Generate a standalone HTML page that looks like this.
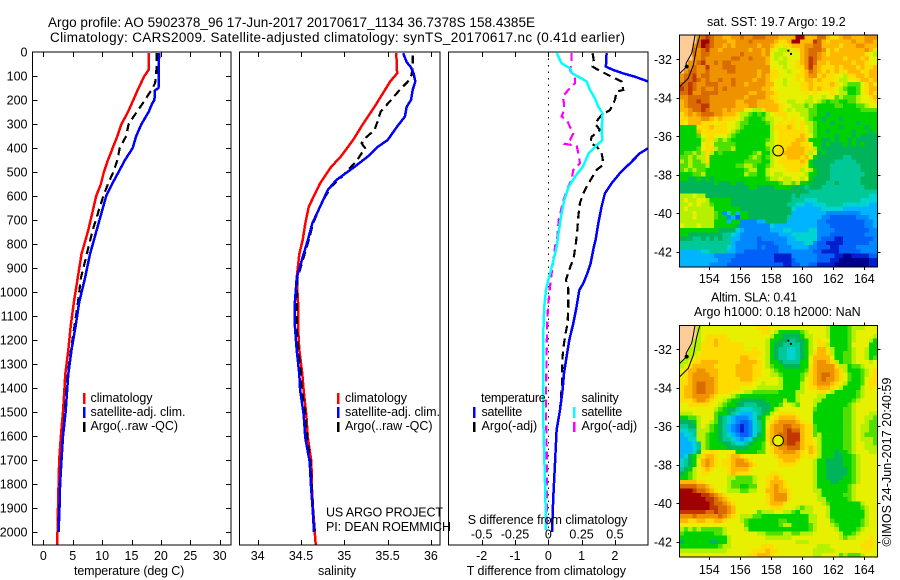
<!DOCTYPE html>
<html lang="en">
<head>
<meta charset="utf-8">
<title>Argo profile 5902378_96</title>
<style>
html,body{margin:0;padding:0;background:#fff;}
svg{display:block;font-family:"Liberation Sans",sans-serif;font-size:12.5px;fill:#000;}
text{fill:#000;}
.frame{fill:none;stroke:#000;stroke-width:1;shape-rendering:crispEdges;}
.bar{shape-rendering:crispEdges;}
</style>
</head>
<body>
<svg id="chart" xmlns="http://www.w3.org/2000/svg" width="900" height="580" viewBox="0 0 900 580">
  <defs>
    <clipPath id="clip1"><rect x="32.5" y="52" width="198.5" height="493"/></clipPath>
    <clipPath id="clip2"><rect x="239.5" y="52" width="200.5" height="493"/></clipPath>
    <clipPath id="clip3"><rect x="448.5" y="52" width="199.5" height="493"/></clipPath>
    <clipPath id="clipM1"><rect x="679.5" y="35" width="198" height="232"/></clipPath>
    <clipPath id="clipM2"><rect x="679.5" y="325.5" width="198" height="231.5"/></clipPath>
  </defs>

  <text x="48" y="27" textLength="487" font-size="13.5">Argo profile: AO 5902378_96 17-Jun-2017 20170617_1134 36.7378S 158.4385E</text>
  <text x="50" y="42" textLength="575" font-size="13.5">Climatology: CARS2009. Satellite-adjusted climatology: synTS_20170617.nc (0.41d earlier)</text>

  <g id="sst-cells"></g>
  <g id="sla-cells"></g>
  <g id="overlays"></g>
  <g id="series1" clip-path="url(#clip1)"></g>
  <g id="series2" clip-path="url(#clip2)"></g>
  <g id="series3" clip-path="url(#clip3)"></g>
  <g id="axes"></g>

  <rect class="frame" x="32.5" y="52" width="198.5" height="493"/>
  <rect class="frame" x="239.5" y="52" width="200.5" height="493"/>
  <rect class="frame" x="448.5" y="52" width="199.5" height="493"/>
  <rect class="frame" x="679.5" y="35" width="198" height="232"/>
  <rect class="frame" x="679.5" y="325.5" width="198" height="231.5"/>

  <g>
    <rect class="bar" x="83" y="393" width="2.5" height="11" fill="#ff0000"/>
    <rect class="bar" x="83" y="407" width="2.5" height="11" fill="#0000ff"/>
    <rect class="bar" x="83" y="422" width="2.5" height="10" fill="#000"/>
    <text x="90.5" y="402" textLength="62">climatology</text>
    <text x="90.5" y="416" textLength="95">satellite-adj. clim.</text>
    <text x="90.5" y="430" textLength="87.5">Argo(..raw -QC)</text>
  </g>
  <g>
    <rect class="bar" x="337" y="393" width="2.5" height="11" fill="#ff0000"/>
    <rect class="bar" x="337" y="407" width="2.5" height="11" fill="#0000ff"/>
    <rect class="bar" x="337" y="422" width="2.5" height="10" fill="#000"/>
    <text x="345" y="402" textLength="62">climatology</text>
    <text x="345" y="416" textLength="95">satellite-adj. clim.</text>
    <text x="345" y="430" textLength="87.5">Argo(..raw -QC)</text>
  </g>
  <g>
    <text x="481" y="402" textLength="64.7">temperature</text>
    <text x="581.5" y="402" textLength="37.3">salinity</text>
    <rect class="bar" x="473" y="407" width="2.5" height="11" fill="#0000ff"/>
    <rect class="bar" x="473" y="422" width="2.5" height="10" fill="#000"/>
    <rect class="bar" x="573" y="407" width="2.5" height="11" fill="#00ffff"/>
    <rect class="bar" x="573" y="422" width="2.5" height="10" fill="#ff00ff"/>
    <text x="481.5" y="416" textLength="40.7">satellite</text>
    <text x="481.5" y="430" textLength="55.7">Argo(-adj)</text>
    <text x="581.5" y="416" textLength="40.7">satellite</text>
    <text x="581.5" y="430" textLength="55.7">Argo(-adj)</text>
  </g>

  <text x="326" y="516.5" textLength="117">US ARGO PROJECT</text>
  <text x="326" y="531" textLength="125">PI: DEAN ROEMMICH</text>
  <text x="74" y="575" textLength="110.3">temperature (deg C)</text>
  <text x="318" y="575" textLength="38">salinity</text>
  <text x="466.7" y="575" textLength="159.3">T difference from climatology</text>
  <text x="467.7" y="524" textLength="159.7">S difference from climatology</text>
  <text x="707" y="26" textLength="138.7">sat. SST: 19.7 Argo: 19.2</text>
  <text x="711" y="301.5" textLength="86">Altim. SLA: 0.41</text>
  <text x="694" y="316" textLength="166.7">Argo h1000: 0.18 h2000: NaN</text>
  <text transform="translate(891 546.5) rotate(-90)" textLength="169">©IMOS 24-Jun-2017 20:40:59</text>
</svg>

<script>
/* ---------- axis ticks ---------- */
const depthTicks = [0,100,200,300,400,500,600,700,800,900,1000,1100,1200,1300,1400,1500,1600,1700,1800,1900,2000];
const tempTicks = [0,5,10,15,20,25,30];
const salTicks = [34,34.5,35,35.5,36];
const tDiffTicks = [-2,-1,0,1,2];
const sDiffTicks = [-0.5,-0.25,0,0.25,0.5];
const lonTicks = [154,156,158,160,162,164];
const latTicks = [-32,-34,-36,-38,-40,-42];

/* ---------- temperature panel ---------- */
const tempClimDepth = [5,75,100,150,200,250,300,350,400,450,500,550,600,742,842,942,1042,1142,1242,1342,1400,1500,1600,1700,1800,1900,2000,2053];
const tempClim = [17.9,17.9,17.2,16.2,15.3,14.4,13.3,12.6,11.8,11,10.3,9.8,9,7.65,6.5,5.85,5.2,4.66,4.25,3.75,3.6,3.35,3,2.7,2.6,2.5,2.42,2.33];
const tempSatDepth = [5,150,160,200,215,250,300,350,400,450,500,550,600,742,842,942,1042,1142,1242,1342,1400,1500,1600,1700,1800,1900,2000];
const tempSat = [19.7,19.6,19,18.9,18.5,17.9,16.7,15.8,15.2,13.9,12.8,11.7,10.7,9.08,7.94,7.1,6.1,5.5,4.8,4.25,4.08,3.8,3.35,3.1,2.85,2.75,2.6];
const tempArgoDepth = [5,100,130,150,200,250,300,350,400,450,500,550,600,742,842,942,1042,1142,1242,1342,1400,1500,1600,1700,1800,1900,2000];
const tempArgo = [19.3,19.2,19,18.6,17.3,15.9,14.5,14.1,13,12.6,11.9,11,10.2,8.4,7.4,6.4,5.9,5.3,4.7,4.15,3.95,3.65,3.3,3.05,2.8,2.7,2.55];

/* ---------- salinity panel ---------- */
const salClimDepth = [5,89,123,158,228,297,367,436,478,547,644,714,783,842,942,1042,1142,1242,1342,1408,1508,1608,1708,1808,1908,2053];
const salClim = [35.6,35.61,35.53,35.47,35.35,35.22,35.1,34.96,34.85,34.72,34.59,34.55,34.52,34.48,34.45,34.465,34.465,34.48,34.515,34.53,34.56,34.58,34.62,34.625,34.64,34.67];
const salSatDepth = [5,42,64,89,123,158,200,228,269,311,367,394,436,478,533,575,644,714,783,842,942,1042,1142,1242,1342,1408,1508,1608,1708,1808,1908,2000];
const salSat = [35.68,35.72,35.77,35.8,35.82,35.79,35.77,35.72,35.7,35.61,35.5,35.39,35.27,35.12,34.91,34.81,34.72,34.63,34.58,34.53,34.45,34.43,34.43,34.45,34.48,34.49,34.53,34.55,34.6,34.615,34.635,34.65];
const salArgoDepth = [14,69,103,125,158,200,248,283,325,353,380,401,422,450,478,520,561,603,644,714,783,942,1042,1142,1242,1342,1408,1508,1608,1708,1808,1908,2000];
const salArgo = [35.79,35.79,35.77,35.73,35.64,35.54,35.42,35.39,35.35,35.26,35.2,35.24,35.2,35.15,35.08,34.97,34.85,34.78,34.72,34.64,34.59,34.46,34.45,34.45,34.47,34.5,34.51,34.55,34.57,34.61,34.625,34.64,34.66];

/* ---------- difference panel ---------- */
const dTSatDepth = [5,61,75,89,103,123,150,200,300,380,401,422,464,505,547,589,644,714,783,811,881,922,964,992,1061,1131,1200,1269,1339,1408,1492,1575,1714,1853,2000];
const dTSat = [1.75,1.73,1.95,2.25,2.6,3,3.4,3.6,3.5,3.3,3,2.75,2.45,2.15,1.9,1.7,1.6,1.5,1.42,1.37,1.27,1.17,1.05,0.93,0.85,0.75,0.63,0.55,0.47,0.43,0.35,0.25,0.2,0.15,0.11];
const dTArgoDepth = [5,40,61,75,96,123,158,165,200,242,263,297,325,353,380,394,422,443,470,491,519,561,589,630,686,742,797,853,908,950,985,1061,1131,1165,1214,1269,1339,1380,1492,1575,1714,1853,2000];
const dTArgo = [1.33,1.37,1.33,1.5,1.8,2.2,2.25,2.05,2,1.85,1.6,1.4,1.55,1.3,1.26,1.46,1.6,1.63,1.65,1.45,1.33,1.15,1.05,0.95,0.9,0.87,0.83,0.77,0.63,0.53,0.6,0.6,0.58,0.53,0.47,0.43,0.41,0.41,0.35,0.25,0.2,0.15,0.11];
const dSSatDepth = [5,47,68,89,110,123,158,193,228,256,325,367,388,422,478,505,561,617,686,742,811,881,950,992,1061,1158,1408,1492,1645,1853,1992];
const dSSat = [0.063,0.1,0.163,0.18,0.25,0.288,0.313,0.35,0.375,0.408,0.4,0.406,0.365,0.303,0.26,0.22,0.153,0.12,0.095,0.08,0.063,0.033,0,-0.017,-0.03,-0.037,-0.04,-0.04,-0.032,-0.022,-0.017];
const dSArgoDepth = [5,47,75,110,130,158,186,214,242,269,283,318,339,367,383,391,422,464,491,533,561,617,700,770,797,908,978,1047,1103,1158,1408,1506,1645,1783,1978];
const dSArgo = [0.175,0.175,0.163,0.2,0.2,0.15,0.108,0.118,0.118,0.1,0.138,0.168,0.188,0.163,0.125,0.213,0.225,0.238,0.188,0.175,0.15,0.113,0.078,0.068,0.055,0.028,0.013,0,-0.007,-0.01,-0.017,-0.017,-0.012,-0.012,-0.012];

/* ---------- map grids: each character is a colour-scale level, L = land; spaces only group columns ---------- */
const sstGrid = [
"LLLLefgfee ddeefeefff eeeddddhhd ddffdccdee dddeee",
"LLLLfhhfee eddeeefeee eedccdhhdd dgfdcddddd eddeed",
"LLLefhgfee dedeeeeede edcbccddde effddddcdd deeddd",
"LLLfefgeed eeeeeedeed ecbaabbcde fffecdcddd dddedc",
"LLLfeffeee eeeefeeeed ebaabbbbde ffedcddddd dddcba",
"LLLeefeeee eeffeefeee dbababbbde gfedddddcd ddcdbb",
"LLeefgeefe ffeeeeeeee dbbaabbcde gfddcddddd cddcbb",
"LLefeegeee fffeeeeeee ebbbabbcce gedcccdcdd dcdccd",
"Leffeefeee effeeeeede eccbbabbcd fedcdcdccd ddccdd",
"effgeffeee eeeeeeeede dccbbbbccd eecdccbbac cddcdd",
"effgfefeef eefeeeedee dcbbabbcbd dcdcccbaab bcddcd",
"ffgfeefffe eefeedeeee ddbbabbbcc dccccdcba9 99bcdc",
"gfgfefeefe feeeeeeeed dcbbbbbbcc dcdcccba98 89bcdd",
"ffgeeffffe eeeeeeddee ddcbbbbbbc bcbbbcbaa8 89bcdc",
"eefffffeee eeeeedeeee dccbbbbbbb abbabb9a99 9abbcd",
"deffgffeee eeeddeeedd ddcbbaabba aba9899889 9abbbc",
"defffggeee eeedddeedd dddcbbaaa9 a988889988 899abb",
"ddeffgfeee dedddbbaac dddcbabaaa 9988888888 889999",
"cdedefffee dddcaa9898 abcccbbbaa 9988788888 888888",
"ccdddeedcd cccba98889 aabbcbcbba 9887888788 888888",
"cbdddcccbc cbba998888 9abcbccbca a988878888 878888",
"8888cccdcc cbba988888 8acccdcbcb a988888788 888788",
"8888dccccc cba9888888 8abccccccb a988788888 788878",
"88889bccbb ba98888888 8abcccccdc b988887888 787777",
"88888acca9 a988888888 9abccccddc 8887787887 877777",
"88888bcb99 9998888888 aabcccddcc b887877787 878777",
"88889bcca9 99a8888888 9abccddddc ca87777777 777777",
"899a9aca89 88888889a8 8abcdddddc ab78777777 777777",
"99a9aac888 8888889a98 9abccdddcd b877777766 777777",
"a9a99ac888 8888899998 8abcccccdc 8777776666 677777",
"99a999a888 88899aa988 9abbcccccb 8777766666 667777",
"9a9a998888 888889aa88 abbbbcccab a877766666 667777",
"88899a8888 88888a9988 abaabbbbba 8877766666 666777",
"8877878788 8888888888 9aabaabbab 8777766666 667777",
"7777777787 7787788888 8889aa9a88 7777667666 667777",
"7777777777 7777778877 7788887776 7776666666 666777",
"7777777777 7777777777 7777777777 6666666666 666666",
"aaabaa7777 7777777777 7777776766 6666666666 666655",
"abaabba888 8877777777 7777776665 5566666666 665555",
"aababaa988 8877777777 7777766554 4555666655 555544",
"abaaaaaa88 8888777777 7777775444 4445555544 444444",
"aaabaaaa98 3584887777 7777774444 4444333333 334444",
"aaabaaaa98 8342887777 7777764444 4443322222 233344",
"aaaaaaaa88 8488333344 7777744444 4433222222 222334",
"baaabaaa88 8887333333 3544444444 4433322222 222334",
"8888888887 7775433333 3444554444 5533332222 222233",
"8877777777 6654333333 3334445555 5533322222 222333",
"7776676767 6644333323 3333344555 5532221122 222223",
"6666666666 6643333322 2233344445 5322111122 222233",
"6666666666 6543333323 2223334444 3322211222 233333",
"4444455666 6443322222 2223333333 3221111222 223333",
"4444444433 3332222222 2211113333 3322221100 111122",
"4444444443 3322222222 2211112333 3322211000 000011",
"4444444333 3222222222 2222112233 2211110000 000011"
];
const slaGrid = [
"LLLLabbbbb bbbbbbbbcc cbbbbbbbbb bbbba88889 aaabbb",
"LLLLabbbbb bbbbbbbbbc cba888889a bbbba88889 abbbbb",
"LLLLabcccc cbbbbbbbbb ba8877778a abbba88889 abbbba",
"LLLaabccdc ccbbbbbbbb a887766778 abcbb88889 abbba8",
"LLLaacccdc cccccbbbbb a877666678 abcca88889 bbbb88",
"LLaaaccccc cccccbbcbb a876655678 abddca8889 abba88",
"LLaabccccc cccccccccb a876655678 acddca8899 abba88",
"Laabcccccc ccccddccbb a876655678 bddddb8899 abba89",
"aabccddddc ccccddddcb a887666688 bdeedca899 abbbab",
"abcdddddcc cccddddccb a988777788 cdeeeecaa8 99abbb",
"bcddeedddc cccddddccb ba98888889 cdeeeedca8 889abc",
"bcdeeeeddc cccddddccb baa988889a cdeffedcb9 889abc",
"ccdeeeeedc ccccdddcbb bbba88889b cdefeedcb9 889bcc",
"ccdeffeedc cccccccbba bbba8888ab cdeeedcba8 889bcc",
"cddeffeedc ccccbbbbaa aaaa8888ab ccdddcba88 88abcb",
"cddeffeedc ccbbbaa999 9998888aab bbccba8888 89abbb",
"cddeeeedcb bba9888888 8888888abb bbaa888888 89abbb",
"cccdeedcbb a988777777 8888a88abb baa8888888 9abbbb",
"bbcccccbba 9887766677 7889bba9bb ba88888889 abbbbb",
"bbbbbbbba9 8776555667 78abbbbbbb b988888899 abbbbb",
"aaabbbbb98 8765444567 8abccccbbb b888888899 abbbaa",
"8899abbb97 6543334578 abcddddcbb b888888899 abbaa9",
"7778abba97 6543223568 bcdeeeedcb b888888899 abba99",
"6677aba987 6432123568 bdeeffeedc c988888899 abaa99",
"5566aaa987 6432123568 cdeefgffdc c988888899 abaa99",
"4556aa9887 6543223578 cdeffgggdc c9a8888899 aba999",
"4455aa9887 6654345788 cdeffgggdc cba8888899 abaaa9",
"44456a9888 7765567889 bdeefggfdc cba8888899 abbaa9",
"44456a9888 8777778889 bcdeefffdc dca8888899 abbaaa",
"44457bbccb bbb8888899 bcddeeedcb dca8887889 abbbaa",
"4578acddcb bcddcbbbbb bbcdddddcb cba8887788 9abbbb",
"5678bdedcb ccdeedcbbb bbbcdddcbb ba88777788 9abbbb",
"5678bdedcb ccdeeedcbb bbbccccbbb ba88777788 9abbbb",
"678abcdcbb bcddddcbbb bbbbbbbbbb ba88777778 9abbbb",
"789abccbbb bcdcccbbbb bccbbbbbbb ba88777778 9abbbb",
"889abbbbbb baa9999abb ccdcbbbbbb ba88777788 9abbbb",
"ddddccbbbb ba99999abb cdddcbbbbb ba88877888 9abbbb",
"ffffeedcbb ba998899bb cdedcbbbbb ba88888889 abbbbb",
"hhhgffedcb baaa99aabb ddeddcbbbb baa8888889 abbbbb",
"hhhhhggfed cbbbbbbbbb cdeeecbbbb bba8888899 abbbbb",
"hhhhhhggfe dcbbbbbbbb cdeeecbbbb bbaa888889 abbbbb",
"hhhhhhhgff edcbbbbbbb cdddcbbbbb bbba988888 88abbb",
"hhhhhhhggf fedbbbbbbb bcccbbba9a abbba88888 889abb",
"ggggggffgf fedbbbbb9a aabbaa98aa abbba88888 888abb",
"eeefeeeeef edcbaaa998 8888888888 aabba88888 888abb",
"ddccddccdd cbbba98888 8889988888 aabbb98888 889abb",
"bbbbbbbbbb bbbbb98888 8889aa8888 9abbba9888 889abb",
"a9a9a99999 abbbba8888 8888888888 9abbbba888 89abbb",
"9888888899 abbbbbbbaa 9999aa99aa abbbbbba88 9abbbb",
"8888888888 8abbbbbbbb aaaaaabbbb bbbbbbba9a abbbcb",
"7888888778 8abbbbbbbb bbbbbbbaaa bbbbbbbbbb bbbccb",
"8888888889 aabbbbbbbc ccbbbbbbbb bbaaabbbbb bbcccb",
"aaaaaaaaaa abbbbbbccc dccbbbbbbb baaaaabbbb bbbcbb",
"bbbbbbbbbb bbbbbbccdd dcbbbbbbbb baabbbb9a9 99abbb"
];
const colourLevels = "0123456789abcdefgh";
const colourScale = ["#00008c","#0020d0","#0060f8","#0088ff","#00b4ff","#00d4d0","#00c896","#00b45a","#00d200","#50e000","#b4f000","#e6f000","#ffdc00","#ffb800","#ee9200","#d86c00","#c03800","#a00000"];
const landColour = "#ffcc99";

/* ---------- map annotations ---------- */
const coastLon = [153.08,152.97,152.86,152.5,152.54,152.06];
const coastLat = [-30.74,-31.26,-31.69,-32.21,-32.38,-32.76];
const isobathLon = [153.4,153.19,152.97,152.64,152.06];
const isobathLat = [-30.74,-31.35,-32.3,-32.99,-33.45];
const isletLon = [159.1,159.27];
const isletLat = [-31.55,-31.72];
const argoLon = 158.4385;
const argoLat = -36.7378;

/* ---------- axis functions ---------- */
const NS = "http://www.w3.org/2000/svg";
function depthY(d){ return 52 + d * 0.24; }
function tempX(t){ return 43.3 + t * 5.88; }
function salX(s){ return 257.7 + (s - 34) * 86.6; }
function tDiffX(v){ return 548.3 + v * 33.3; }
function sDiffX(v){ return 548.3 + v * 133.2; }
function lonX(l){ return 709.3 + (l - 154) * 15.5; }
function latY1(l){ return 59.3 + (-32 - l) * 19.27; }
function latY2(l){ return 349.3 + (-32 - l) * 19.27; }

function make(parent, tag, attrs, txt){
  const el = document.createElementNS(NS, tag);
  for (const k in attrs) el.setAttribute(k, attrs[k]);
  if (txt !== undefined) el.textContent = txt;
  parent.appendChild(el);
  return el;
}
function profilePoints(depths, values, xFn){
  return depths.map(function(d, i){ return xFn(values[i]).toFixed(1) + "," + depthY(d).toFixed(1); }).join(" ");
}
function drawProfile(parent, name, depths, values, xFn, colour, dash){
  const attrs = {points: profilePoints(depths, values, xFn), fill: "none", stroke: colour, "stroke-width": dash ? 2.2 : 2.5, "shape-rendering": "crispEdges"};
  if (dash) attrs["stroke-dasharray"] = dash;
  const el = make(parent, "polyline", attrs);
  
  
}

const s1 = document.getElementById("series1");
const s2 = document.getElementById("series2");
const s3 = document.getElementById("series3");
const DASH = "8 5";
drawProfile(s1, "temperature-climatology-line", tempClimDepth, tempClim, tempX, "#ff0000");
drawProfile(s1, "temperature-argo-line", tempArgoDepth, tempArgo, tempX, "#000", DASH);
drawProfile(s1, "temperature-satellite-line", tempSatDepth, tempSat, tempX, "#0000ff");
drawProfile(s2, "salinity-climatology-line", salClimDepth, salClim, salX, "#ff0000");
drawProfile(s2, "salinity-argo-line", salArgoDepth, salArgo, salX, "#000", DASH);
drawProfile(s2, "salinity-satellite-line", salSatDepth, salSat, salX, "#0000ff");
const zero = make(s3, "line", {x1: tDiffX(0), x2: tDiffX(0), y1: 52, y2: 545, stroke: "#000", "stroke-width": 1, "stroke-dasharray": "1.5 5", "shape-rendering": "crispEdges"});


drawProfile(s3, "t-difference-argo-line", dTArgoDepth, dTArgo, tDiffX, "#000", DASH);
drawProfile(s3, "t-difference-satellite-line", dTSatDepth, dTSat, tDiffX, "#0000ff");
drawProfile(s3, "s-difference-argo-line", dSArgoDepth, dSArgo, sDiffX, "#ff00ff", DASH);
drawProfile(s3, "s-difference-satellite-line", dSSatDepth, dSSat, sDiffX, "#00ffff");

/* ---------- ticks ---------- */
const ax = document.getElementById("axes");
function tick(x1, y1, x2, y2){
  const el = make(ax, "line", {x1: x1, y1: y1, x2: x2, y2: y2, stroke: "#000", "stroke-width": 1, "shape-rendering": "crispEdges"});
  
  
}
function tickLabel(x, y, anchor, str){
  const el = make(ax, "text", {x: x, y: y, "text-anchor": anchor}, str);
  
  
}
depthTicks.forEach(function(d){
  const y = Math.round(depthY(d)) + 0.5;
  if (d > 0) { tick(32.5, y, 37.5, y); tick(226, y, 231, y); }
  tickLabel(27.5, depthY(d) + 4.5, "end", String(d));
});
function xAxis(ticks, fn){
  ticks.forEach(function(v){
    const x = Math.round(fn(v)) + 0.5;
    tick(x, 52, x, 57);
    tick(x, 540, x, 545);
    tickLabel(fn(v), 560, "middle", String(v));
  });
}
xAxis(tempTicks, tempX);
xAxis(salTicks, salX);
xAxis(tDiffTicks, tDiffX);
sDiffTicks.forEach(function(v){ tickLabel(sDiffX(v), 538.7, "middle", String(v)); });

function mapAxes(top, bottom, latFn, labelY){
  lonTicks.forEach(function(l){
    const x = Math.round(lonX(l)) + 0.5;
    tick(x, top - 3, x, top);
    tick(x, bottom, x, bottom + 3);
    tickLabel(lonX(l), labelY, "middle", String(l));
  });
  latTicks.forEach(function(l){
    const y = Math.round(latFn(l)) + 0.5;
    tick(676.5, y, 679.5, y);
    tick(877.5, y, 880.5, y);
    tickLabel(672, latFn(l) + 4.5, "end", String(l));
  });
}
mapAxes(35, 267, latY1, 283);
mapAxes(325.5, 557, latY2, 574);

/* ---------- heatmaps ---------- */
function drawGrid(parent, grid, top, cellName){
  const w = 198 / 46, h = 231.6 / 54;
  grid.forEach(function(rawRow, r){
    const row = rawRow.replace(/ /g, "");
    for (let c = 0; c < row.length; c++) {
      const ch = row.charAt(c);
      const colour = ch === "L" ? landColour : colourScale[colourLevels.indexOf(ch)];
      const el = make(parent, "rect", {
        x: (679.5 + c * w).toFixed(2), y: (top + r * h).toFixed(2),
        width: (w + 0.3).toFixed(2), height: (h + 0.3).toFixed(2),
        fill: colour, "shape-rendering": "crispEdges"
      });
      
      
    }
  });
}
drawGrid(document.getElementById("sst-cells"), sstGrid, 35, "sst-cell");
drawGrid(document.getElementById("sla-cells"), slaGrid, 325.5, "sla-cell");

/* ---------- coast, isobath, Argo position ---------- */
const ov = document.getElementById("overlays");
function mapOverlay(latFn, clipId, circleFill){
  const g = make(ov, "g", {"clip-path": "url(#" + clipId + ")"});
  
  
  const coast = make(g, "polyline", {points: coastLon.map(function(l, i){ return lonX(l) + "," + latFn(coastLat[i]); }).join(" "), fill: "none", stroke: "#000", "stroke-width": 1});
  
  
  const iso = make(g, "polyline", {points: isobathLon.map(function(l, i){ return lonX(l) + "," + latFn(isobathLat[i]); }).join(" "), fill: "none", stroke: "#000", "stroke-width": 1});
  
  
  isletLon.forEach(function(l, i){
    const islet = make(g, "rect", {x: lonX(l) - 1, y: latFn(isletLat[i]) - 1, width: 2, height: 2, fill: "#000"});
    
    
  });
  const blob = make(g, "circle", {cx: lonX(coastLon[4]), cy: latFn(coastLat[4]), r: 2, fill: "#000"});
  
  
  const c = make(g, "circle", {cx: lonX(argoLon), cy: latFn(argoLat), r: 5.3, fill: circleFill, stroke: "#000", "stroke-width": 1});
  
  
}
mapOverlay(latY1, "clipM1", "none");
mapOverlay(latY2, "clipM2", "#e6f000");
</script>
</body>
</html>
